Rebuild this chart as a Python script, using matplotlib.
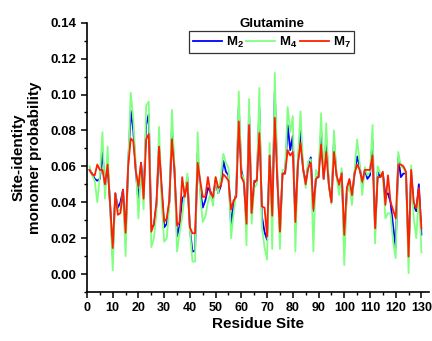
import numpy as np
import matplotlib
matplotlib.use("Agg")
from matplotlib import pyplot as plt
from matplotlib.ticker import MultipleLocator

plt.rcParams["font.family"] = ["Liberation Sans", "DejaVu Sans"]
plt.rcParams["font.weight"] = "bold"
plt.rcParams["mathtext.fontset"] = "custom"
plt.rcParams["mathtext.rm"] = "Liberation Sans:bold"
plt.rcParams["mathtext.default"] = "rm"

sites = np.arange(1, 131)

# M2 (blue)
m2 = [0.058, 0.056, 0.053, 0.052, 0.053, 0.068, 0.048, 0.061, 0.038, 0.0105,
      0.045, 0.037, 0.040, 0.047, 0.019, 0.061, 0.091, 0.080, 0.057, 0.040,
      0.062, 0.044, 0.083, 0.089, 0.026, 0.027, 0.038, 0.071, 0.047, 0.026,
      0.028, 0.040, 0.081, 0.058, 0.021, 0.027, 0.042, 0.044, 0.054, 0.025,
      0.0125, 0.013, 0.067, 0.047, 0.037, 0.041, 0.048, 0.046, 0.042, 0.052,
      0.045, 0.049, 0.063, 0.057, 0.055, 0.027, 0.039, 0.045, 0.093, 0.058,
      0.051, 0.028, 0.0905, 0.034, 0.051, 0.052, 0.092, 0.032, 0.0235, 0.019,
      0.066, 0.033, 0.1017, 0.053, 0.023, 0.056, 0.056, 0.083, 0.069, 0.077,
      0.029, 0.062, 0.080, 0.058, 0.051, 0.061, 0.065, 0.035, 0.054, 0.054,
      0.080, 0.053, 0.075, 0.050, 0.040, 0.074, 0.055, 0.048, 0.057, 0.018,
      0.045, 0.052, 0.042, 0.056, 0.0655, 0.060, 0.050, 0.058, 0.053, 0.055,
      0.074, 0.024, 0.057, 0.054, 0.056, 0.044, 0.045, 0.040, 0.0266, 0.0145,
      0.065, 0.054, 0.056, 0.056, 0.010, 0.057, 0.038, 0.035, 0.050, 0.022]

# M4 (green)
m4 = [0.060, 0.055, 0.052, 0.040, 0.055, 0.079, 0.042, 0.071, 0.036, 0.002,
      0.045, 0.035, 0.036, 0.046, 0.010, 0.062, 0.101, 0.086, 0.060, 0.031,
      0.061, 0.036, 0.094, 0.096, 0.015, 0.020, 0.034, 0.082, 0.040, 0.018,
      0.020, 0.038, 0.0915, 0.060, 0.0125, 0.023, 0.032, 0.045, 0.056, 0.024,
      0.0069, 0.007, 0.079, 0.044, 0.029, 0.032, 0.040, 0.045, 0.038, 0.054,
      0.045, 0.054, 0.067, 0.062, 0.059, 0.020, 0.034, 0.045, 0.1017, 0.056,
      0.053, 0.016, 0.0975, 0.028, 0.048, 0.050, 0.1036, 0.026, 0.015, 0.008,
      0.073, 0.014, 0.112, 0.056, 0.014, 0.058, 0.058, 0.093, 0.079, 0.088,
      0.0125, 0.065, 0.0906, 0.059, 0.048, 0.063, 0.064, 0.0125, 0.058, 0.054,
      0.0896, 0.053, 0.084, 0.050, 0.039, 0.080, 0.055, 0.044, 0.059, 0.005,
      0.045, 0.050, 0.0385, 0.058, 0.075, 0.062, 0.044, 0.0595, 0.055, 0.057,
      0.083, 0.017, 0.060, 0.056, 0.056, 0.031, 0.034, 0.0335, 0.018, 0.0088,
      0.068, 0.060, 0.059, 0.056, 0.0005, 0.0605, 0.031, 0.020, 0.045, 0.012]

# M7 (red)
m7 = [0.058, 0.0555, 0.055, 0.061, 0.058, 0.058, 0.050, 0.061, 0.0385, 0.0145,
      0.045, 0.033, 0.034, 0.047, 0.023, 0.060, 0.0755, 0.074, 0.057, 0.049,
      0.062, 0.042, 0.075, 0.078, 0.0236, 0.028, 0.040, 0.071, 0.049, 0.029,
      0.031, 0.041, 0.075, 0.058, 0.027, 0.029, 0.054, 0.043, 0.051, 0.026,
      0.0227, 0.0227, 0.062, 0.052, 0.043, 0.043, 0.054, 0.045, 0.043, 0.054,
      0.048, 0.049, 0.0556, 0.054, 0.052, 0.036, 0.041, 0.043, 0.085, 0.054,
      0.051, 0.028, 0.083, 0.034, 0.052, 0.052, 0.0785, 0.0376, 0.037, 0.021,
      0.066, 0.0325, 0.087, 0.052, 0.0236, 0.056, 0.056, 0.069, 0.066, 0.068,
      0.029, 0.062, 0.073, 0.059, 0.050, 0.059, 0.062, 0.036, 0.053, 0.054,
      0.072, 0.053, 0.068, 0.050, 0.040, 0.068, 0.055, 0.050, 0.056, 0.0218,
      0.048, 0.053, 0.044, 0.056, 0.061, 0.058, 0.0515, 0.058, 0.058, 0.058,
      0.066, 0.0255, 0.054, 0.054, 0.057, 0.0385, 0.055, 0.040, 0.0357, 0.031,
      0.061, 0.061, 0.060, 0.057, 0.0097, 0.058, 0.040, 0.0366, 0.048, 0.0255]

fig = plt.figure(figsize=(4.32, 3.41), dpi=100)
ax = fig.add_axes([0.2014, 0.1437, 0.792, 0.7897])

ax.plot(sites, m2, color="#0000ff", lw=1.3, label="M$_2$")
ax.plot(sites, m4, color="#80ff80", lw=1.3, label="M$_4$")
ax.plot(sites, m7, color="#ff2000", lw=1.3, label="M$_7$")

ax.set_xlim(0, 133)
ax.set_ylim(-0.010, 0.14)
ax.xaxis.set_major_locator(MultipleLocator(10))
ax.xaxis.set_minor_locator(MultipleLocator(5))
ax.yaxis.set_major_locator(MultipleLocator(0.02))
ax.yaxis.set_minor_locator(MultipleLocator(0.01))
ax.yaxis.set_major_formatter(plt.FormatStrFormatter("%.2f"))

for side in ["top", "right"]:
    ax.spines[side].set_visible(False)
for side in ["left", "bottom"]:
    ax.spines[side].set_linewidth(1.2)
ax.tick_params(which="major", direction="out", length=4, width=1.1, labelsize=9.5)
ax.tick_params(axis="x", which="major", labelsize=9)
ax.tick_params(which="minor", direction="out", length=2.5, width=1.0)

ax.set_xlabel("Residue Site", fontsize=11, fontweight="bold", labelpad=2)
ax.set_ylabel("Site-identity\nmonomer probability", fontsize=11,
              fontweight="bold", labelpad=6)

leg = ax.legend(loc="center", bbox_to_anchor=(0.54, 0.928), ncol=3,
                fontsize=9.5, frameon=True, fancybox=False, handlelength=2.2,
                handletextpad=0.3, columnspacing=0.2, borderpad=0.25,
                borderaxespad=0)
leg.get_frame().set_edgecolor("black")
leg.get_frame().set_linewidth(0.9)
ax.text(0.54, 0.997, "Glutamine", transform=ax.transAxes, ha="center",
        va="center", fontsize=9.5, fontweight="bold")

fig.savefig("out.png", dpi=100)
